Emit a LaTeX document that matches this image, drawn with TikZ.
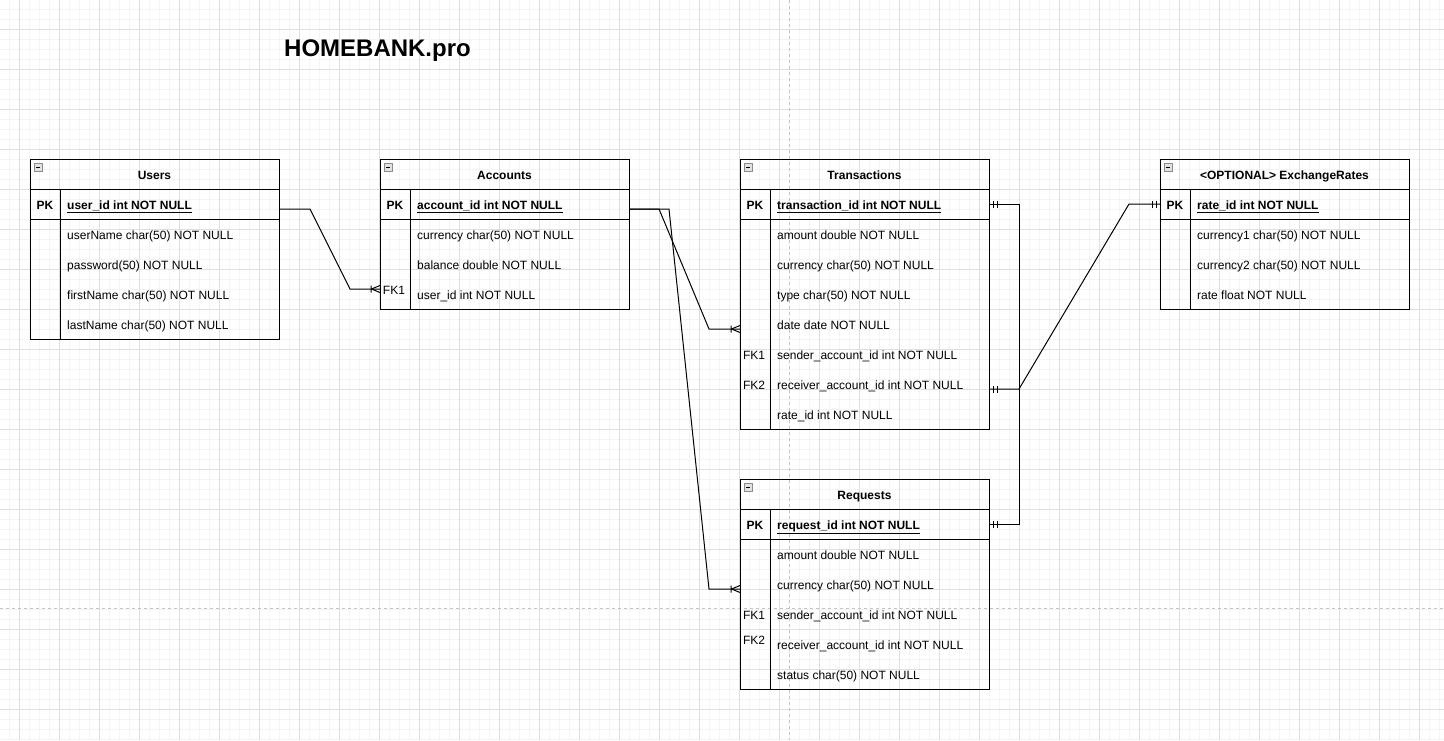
\documentclass[tikz,border=0pt]{standalone}
\usepackage{fontspec}
\setmainfont{Liberation Sans}

\definecolor{gridminor}{HTML}{F4F4F4}
\definecolor{gridmajor}{HTML}{DFDFDF}
\definecolor{pagebreak}{HTML}{C4C4C4}
\definecolor{iconfill}{HTML}{E2E2E2}
\definecolor{icondraw}{HTML}{8C8C8C}

%ER-Symbole: Krähenfuß mit Strich und Doppelstrich
\pgfdeclarearrow{
	name = erMany,
	setup code = {
		\pgfarrowssettipend{0pt}
		\pgfarrowssetlineend{0pt}
		\pgfarrowssetbackend{-10pt}
		\pgfarrowssetvisualbackend{-10pt}
		\pgfarrowsupperhullpoint{-10pt}{4pt}
		\pgfarrowsupperhullpoint{0pt}{4pt}
	},
	drawing code = {
		\pgfsetdash{}{0pt}
		\pgfpathmoveto{\pgfqpoint{-8.5pt}{0pt}}
		\pgfpathlineto{\pgfqpoint{0pt}{3.5pt}}
		\pgfpathmoveto{\pgfqpoint{-8.5pt}{0pt}}
		\pgfpathlineto{\pgfqpoint{0pt}{-3.5pt}}
		\pgfpathmoveto{\pgfqpoint{-9pt}{3.5pt}}
		\pgfpathlineto{\pgfqpoint{-9pt}{-3.5pt}}
		\pgfusepathqstroke
	}
}
\pgfdeclarearrow{
	name = erOne,
	setup code = {
		\pgfarrowssettipend{0pt}
		\pgfarrowssetlineend{0pt}
		\pgfarrowssetbackend{-10pt}
		\pgfarrowssetvisualbackend{-10pt}
		\pgfarrowsupperhullpoint{-10pt}{4pt}
		\pgfarrowsupperhullpoint{0pt}{4pt}
	},
	drawing code = {
		\pgfsetdash{}{0pt}
		\pgfpathmoveto{\pgfqpoint{-4pt}{3.5pt}}
		\pgfpathlineto{\pgfqpoint{-4pt}{-3.5pt}}
		\pgfpathmoveto{\pgfqpoint{-8pt}{3.5pt}}
		\pgfpathlineto{\pgfqpoint{-8pt}{-3.5pt}}
		\pgfusepathqstroke
	}
}

\begin{document}
\begin{tikzpicture}
	[
	x=1pt, y=-1pt, font=\fontsize{12pt}{14pt}\selectfont,
	every node/.style={inner sep=0pt},
	%Tabellen
	tbl/.style={line width=1pt, black},
	icon/.style={line width=0.8pt, draw=icondraw, fill=iconfill},
	head/.style={anchor=base, yshift=-1pt, font=\fontsize{12pt}{14pt}\selectfont\bfseries},
	key/.style={anchor=base, yshift=-1pt},
	pkkey/.style={anchor=base, yshift=-1pt, font=\fontsize{12pt}{14pt}\selectfont\bfseries},
	pkfield/.style={anchor=base west, yshift=-1pt, font=\fontsize{12pt}{14pt}\selectfont\bfseries},
	field/.style={anchor=base west, yshift=-1pt},
	link/.style={line width=1pt, black}
	]
	\useasboundingbox (0,0) rectangle (1444,740);
	
	%Raster im Hintergrund
	\foreach \gx in {9,19,...,1439} \draw[gridminor, line width=1pt] (\gx,0) -- (\gx,740);
	\foreach \gy in {9,19,...,739} \draw[gridminor, line width=1pt] (0,\gy) -- (1444,\gy);
	\foreach \gx in {19,59,...,1419} \draw[gridmajor, line width=1pt] (\gx,0) -- (\gx,740);
	\foreach \gy in {29,69,...,709} \draw[gridmajor, line width=1pt] (0,\gy) -- (1444,\gy);
	%Seitenumbruch
	\draw[pagebreak, line width=1pt, dash pattern=on 3pt off 3pt] (789,0) -- (789,740);
	\draw[pagebreak, line width=1pt, dash pattern=on 3pt off 3pt] (0,608) -- (1444,608);
	
	%Titel
	\node[anchor=base, font=\fontsize{24pt}{28pt}\selectfont\bfseries] (title) at (377.5,56) {HOMEBANK.pro};
	
	%Users
	\begin{scope}[shift={(30,159)}]
		\draw[tbl] (0,0) rectangle (249,180);
		\draw[tbl] (0,30) -- (249,30) (0,60) -- (249,60) (30,30) -- (30,180);
		\draw[icon] (4,4) rectangle (12,12);
		\draw[black, line width=1pt] (6,8) -- (10,8);
		\node[head] (users) at (124.5,19) {Users};
		\node[pkkey] (users-pkkey) at (15,49) {PK};
		\node[pkfield] (users-pk) at (37,49) {\underline{user\_id int NOT NULL}};
		\foreach \txt [count=\i] in {userName char(50) NOT NULL, password(50) NOT NULL, firstName char(50) NOT NULL, lastName char(50) NOT NULL}
			\node[field] (users-f\i) at (37,49+30*\i) {\txt};
		\coordinate (users-pk-e) at (249,50);
	\end{scope}
	
	%Accounts
	\begin{scope}[shift={(380,159)}]
		\draw[tbl] (0,0) rectangle (249,150);
		\draw[tbl] (0,30) -- (249,30) (0,60) -- (249,60) (30,30) -- (30,150);
		\draw[icon] (4,4) rectangle (12,12);
		\draw[black, line width=1pt] (6,8) -- (10,8);
		\node[head] (acc) at (124.5,19) {Accounts};
		\node[pkkey] (acc-pkkey) at (15,49) {PK};
		\node[pkfield] (acc-pk) at (37,49) {\underline{account\_id int NOT NULL}};
		\foreach \txt [count=\i] in {currency char(50) NOT NULL, balance double NOT NULL, user\_id int NOT NULL}
			\node[field] (acc-f\i) at (37,49+30*\i) {\txt};
		\node[key] (acc-fk1) at (14,134) {FK1};
		\coordinate (acc-pk-e) at (249,50);
		\coordinate (acc-fk1-w) at (0,130);
	\end{scope}
	
	%Transactions
	\begin{scope}[shift={(740,159)}]
		\draw[tbl] (0,0) rectangle (249,270);
		\draw[tbl] (0,30) -- (249,30) (0,60) -- (249,60) (30,30) -- (30,270);
		\draw[icon] (4,4) rectangle (12,12);
		\draw[black, line width=1pt] (6,8) -- (10,8);
		\node[head] (tr) at (124.5,19) {Transactions};
		\node[pkkey] (tr-pkkey) at (15,49) {PK};
		\node[pkfield] (tr-pk) at (37,49) {\underline{transaction\_id int NOT NULL}};
		\foreach \txt [count=\i] in {amount double NOT NULL, currency char(50) NOT NULL, type char(50) NOT NULL, date date NOT NULL, sender\_account\_id int NOT NULL, receiver\_account\_id int NOT NULL, rate\_id int NOT NULL}
			\node[field] (tr-f\i) at (37,49+30*\i) {\txt};
		\node[key] (tr-fk1) at (14,199) {FK1};
		\node[key] (tr-fk2) at (14,229) {FK2};
		\coordinate (tr-pk-e) at (249,45);
		\coordinate (tr-date-w) at (0,170);
		\coordinate (tr-fk2-e) at (249,230);
	\end{scope}
	
	%Requests
	\begin{scope}[shift={(740,479)}]
		\draw[tbl] (0,0) rectangle (249,210);
		\draw[tbl] (0,30) -- (249,30) (0,60) -- (249,60) (30,30) -- (30,210);
		\draw[icon] (4,4) rectangle (12,12);
		\draw[black, line width=1pt] (6,8) -- (10,8);
		\node[head] (req) at (124.5,19) {Requests};
		\node[pkkey] (req-pkkey) at (15,49) {PK};
		\node[pkfield] (req-pk) at (37,49) {\underline{request\_id int NOT NULL}};
		\foreach \txt [count=\i] in {amount double NOT NULL, currency char(50) NOT NULL, sender\_account\_id int NOT NULL, receiver\_account\_id int NOT NULL, status char(50) NOT NULL}
			\node[field] (req-f\i) at (37,49+30*\i) {\txt};
		\node[key] (req-fk1) at (14,139) {FK1};
		\node[key] (req-fk2) at (14,164) {FK2};
		\coordinate (req-pk-e) at (249,45);
		\coordinate (req-cur-w) at (0,110);
	\end{scope}
	
	%ExchangeRates
	\begin{scope}[shift={(1160,159)}]
		\draw[tbl] (0,0) rectangle (249,150);
		\draw[tbl] (0,30) -- (249,30) (0,60) -- (249,60) (30,30) -- (30,150);
		\draw[icon] (4,4) rectangle (12,12);
		\draw[black, line width=1pt] (6,8) -- (10,8);
		\node[head] (rate) at (124.5,19) {\textless OPTIONAL\textgreater{} ExchangeRates};
		\node[pkkey] (rate-pkkey) at (15,49) {PK};
		\node[pkfield] (rate-pk) at (37,49) {\underline{rate\_id int NOT NULL}};
		\foreach \txt [count=\i] in {currency1 char(50) NOT NULL, currency2 char(50) NOT NULL, rate float NOT NULL}
			\node[field] (rate-f\i) at (37,49+30*\i) {\txt};
		\coordinate (rate-pk-w) at (0,45);
	\end{scope}
	
	%Beziehungen
	\draw[link, arrows={-erMany}] (users-pk-e) -- ++(31,0) -- ([xshift=-30pt]acc-fk1-w) -- (acc-fk1-w);
	\draw[link, arrows={-erMany}] (acc-pk-e) -- ++(30,0) -- ([xshift=-31pt]tr-date-w) -- (tr-date-w);
	\draw[link, arrows={-erMany}] (acc-pk-e) -- ++(40,0) -- ([xshift=-31pt]req-cur-w) -- (req-cur-w);
	\draw[link, arrows={erOne-erOne}] (tr-pk-e) -- ++(30,0) |- (req-pk-e);
	\draw[link, arrows={erOne-erOne}] (tr-fk2-e) -- ++(30,0) -- ([xshift=-31pt]rate-pk-w) -- (rate-pk-w);
\end{tikzpicture}
\end{document}
